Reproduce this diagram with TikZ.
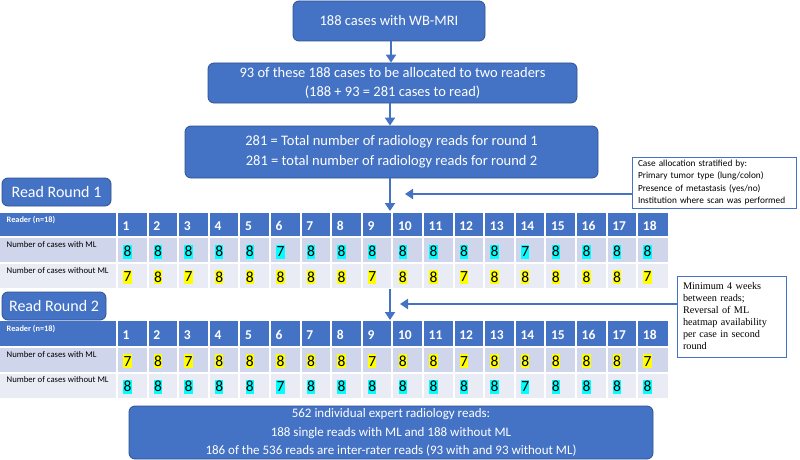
\documentclass[tikz,border=0pt]{standalone}
\usepackage{fontspec}
\setmainfont{Carlito}
\newfontfamily\timesf{Liberation Serif}
\usetikzlibrary{arrows.meta}
\definecolor{obl}{HTML}{4472C4}
\definecolor{obd}{HTML}{2F528F}
\definecolor{rowa}{HTML}{CFD5EA}
\definecolor{rowb}{HTML}{E9EBF5}
\definecolor{hcyan}{HTML}{00FFFF}
\definecolor{hyell}{HTML}{FFFF00}
% #1 prefix, #2..#5 row boundaries, #6 row2 data, #7 row3 data, #8 colour row2, #9 colour row3
\newcommand{\rtable}[9]{%
  \fill[obl] (0,#2) rectangle (668,#3);
  \fill[rowa] (0,#3) rectangle (668,#4);
  \fill[rowb] (0,#4) rectangle (668,#5);
  \draw[white,line width=2pt] (117,#2) -- (117,#5);
  \foreach \i in {1,...,17} {\draw[white,line width=2pt] ({117+\i*30.6},#2) -- ({117+\i*30.6},#5);}
  \draw[white,line width=2pt] (0,#3) -- (668,#3) (0,#4) -- (668,#4);
  \node[lbl, font=\bfseries\fontsize{8.3}{9}\selectfont, text=white] (#1-r) at (6.5,{#2+4}) {Reader (n=18)};
  \node[lbl] (#1-a) at (6.5,{#3+4}) {Number of cases with ML};
  \node[lbl] (#1-b) at (6.5,{#4+4}) {Number of cases without ML};
  \foreach \i in {1,...,18} {\node[hdr] (#1-h\i) at ({117+(\i-1)*30.6+5.5},{(#2+#3)/2+1}) {\i};}
  \foreach \v [count=\i] in {#6} {\node[dig, fill=#8] (#1-x\i) at ({117+(\i-1)*30.6+6},{(#3+#4)/2+1.5}) {\v};}
  \foreach \v [count=\i] in {#7} {\node[dig, fill=#9] (#1-y\i) at ({117+(\i-1)*30.6+6},{(#4+#5)/2+1.5}) {\v};}
}
\begin{document}
\begin{tikzpicture}[x=1pt,y=-1pt,
  bluebox/.style={draw=obd, line width=0.8pt, fill=obl, rounded corners=6pt, text=white, align=center, inner sep=0pt},
  flow/.style={draw=obl, line width=2.5pt, -{Triangle[width=10pt,length=8pt]}},
  note/.style={draw=obl, line width=1pt, fill=white, align=left, inner xsep=6pt, inner ysep=0pt},
  lbl/.style={anchor=north west, inner sep=0pt, font=\fontsize{8.7}{10}\selectfont},
  hdr/.style={anchor=west, inner sep=0pt, text=white, font=\bfseries\fontsize{13.5}{15}\selectfont},
  dig/.style={anchor=west, inner xsep=0.3pt, inner ysep=0pt, minimum height=14pt, font=\fontsize{15.5}{16}\selectfont}]
\useasboundingbox (0,0) rectangle (800,460);

\node[bluebox, minimum width=192pt, minimum height=40pt, font=\fontsize{14.5}{19}\selectfont] (b1) at (389,21) {188 cases with WB-MRI};
\node[bluebox, minimum width=369pt, minimum height=40pt, font=\fontsize{14.5}{19}\selectfont] (b2) at (392.5,83) {93 of these 188 cases to be allocated to two readers\\(188 + 93 = 281 cases to read)};
\node[bluebox, minimum width=413pt, minimum height=52pt, font=\fontsize{14.5}{20}\selectfont] (b3) at (391.5,152) {281 = Total number of radiology reads for round 1\\281 = total number of radiology reads for round 2};

\node[bluebox, minimum width=109pt, minimum height=28pt, font=\fontsize{16}{18}\selectfont] (r1) at (56.5,192) {Read Round 1};
\node[bluebox, minimum width=104pt, minimum height=28pt, font=\fontsize{16}{18}\selectfont] (r2) at (54,306) {Read Round 2};

\node[note, text width=152pt, minimum height=51pt, font=\fontsize{9.3}{12.3}\selectfont] (alloc) at (714,182.5) {Case allocation stratified by:\\Primary tumor type (lung/colon)\\Presence of metastasis (yes/no)\\Institution where scan was performed};
\node[note, text width=97pt, minimum height=81pt, font=\timesf\fontsize{10.2}{12}\selectfont] (minb) at (731.5,316.5) {Minimum 4 weeks\\between reads;\\Reversal of ML\\heatmap availability\\per case in second\\round};

\rtable{ta}{212.5}{237}{263}{288}{8,8,8,8,8,7,8,8,8,8,8,8,8,7,8,8,8,8}{7,8,7,8,8,8,8,8,7,8,8,7,8,8,8,8,8,7}{hcyan}{hyell}
\rtable{tb}{321}{347}{372.5}{397.5}{7,8,7,8,8,8,8,8,7,8,8,7,8,8,8,8,8,7}{8,8,8,8,8,7,8,8,8,8,8,8,8,7,8,8,8,8}{hyell}{hcyan}

\node[bluebox, minimum width=524pt, minimum height=53pt, font=\fontsize{13}{18.5}\selectfont] (b4) at (391,432.5) {562 individual expert radiology reads:\\188 single reads with ML and 188 without ML\\186 of the 536 reads are inter-rater reads (93 with and 93 without ML)};

\coordinate (t1top) at (390,211);
\coordinate (h1) at (405,194);
\coordinate (t1bot) at (390,289);
\coordinate (t2top) at (390,320);
\coordinate (h2) at (400,304);

\draw[flow] (b1.south -| 391,0) -- (b2.north -| 391,0);
\draw[flow] (b2.south -| 390,0) -- (b3.north -| 390,0);
\draw[flow] (b3.south -| t1top) -- (t1top);
\draw[flow] (alloc.west |- h1) -- (h1);
\draw[flow] (t1bot) -- (t2top);
\draw[flow] (minb.west |- h2) -- (h2);
\end{tikzpicture}
\end{document}
